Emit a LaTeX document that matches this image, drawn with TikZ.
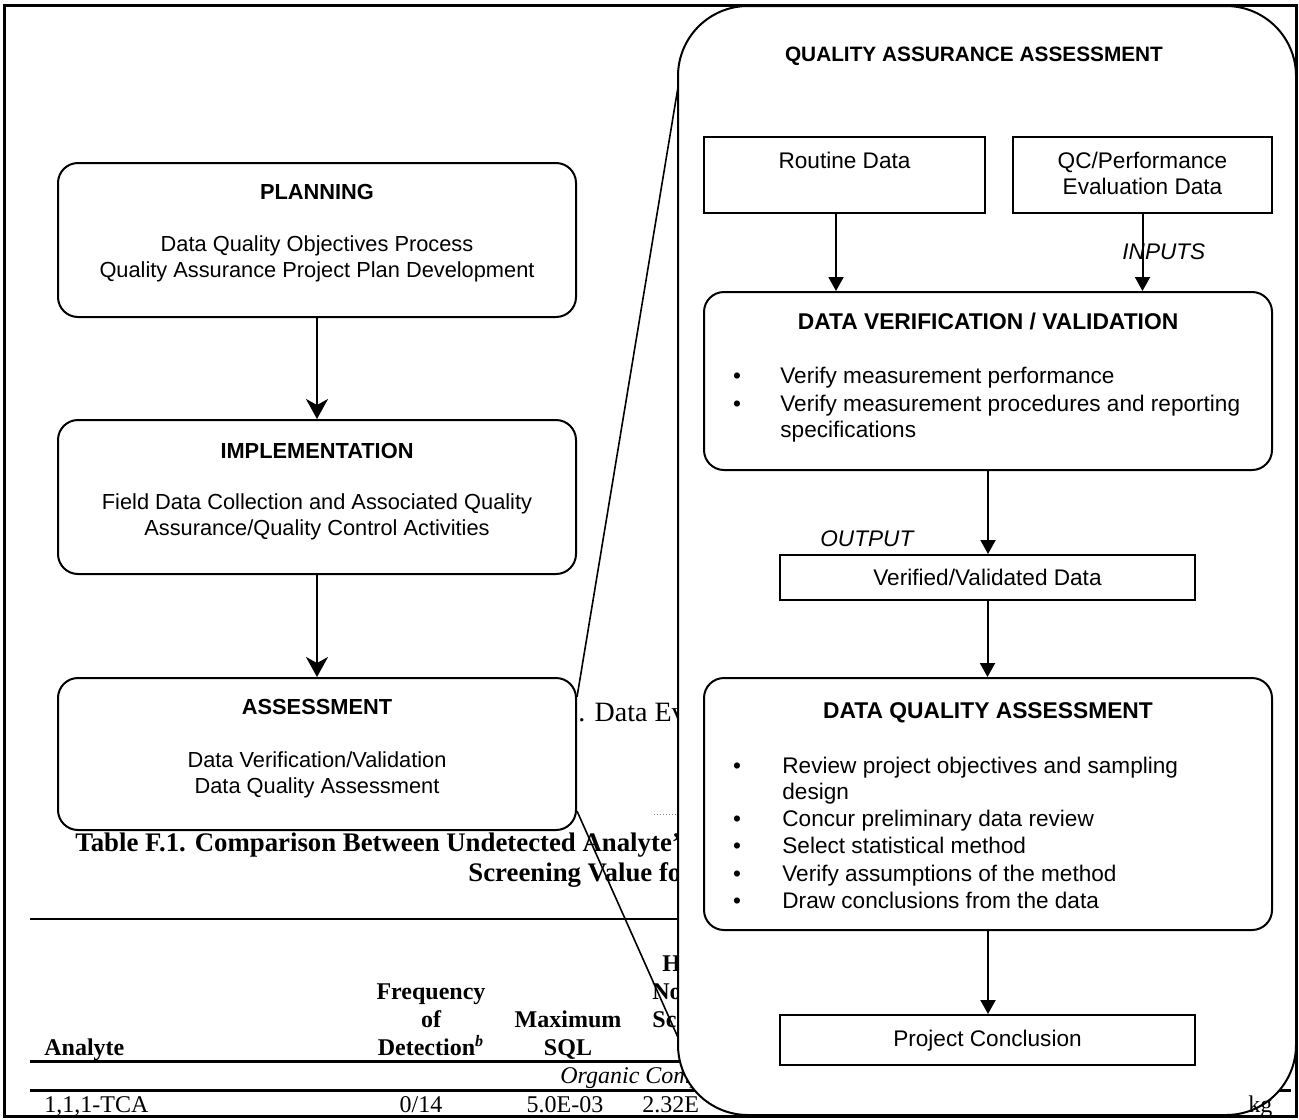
\documentclass[tikz,border=0pt]{standalone}
\usepackage{fontspec}
\setmainfont{Liberation Sans}
\newfontfamily\tmsfont{Liberation Serif}
\usetikzlibrary{arrows.meta}
\begin{document}
\begin{tikzpicture}[x=0.5pt,y=-0.5pt,
  lbox/.style={draw,line width=1pt,fill=white,rounded corners=10pt,inner sep=0pt},
  sbox/.style={draw,line width=1pt,fill=white,inner sep=0pt},
  bigbox/.style={draw,line width=1pt,fill=white,rounded corners=35pt,inner sep=0pt},
  arr/.style={line width=1pt,-{Triangle[length=7pt,width=7.5pt]}},
  larr/.style={line width=1pt,-{Stealth[length=10pt,width=11pt,inset=3pt]}},
  txt/.style={font=\fontsize{10.9pt}{13pt}\selectfont,inner sep=0pt,anchor=base},
  ttl/.style={font=\fontsize{10.9pt}{13pt}\selectfont\bfseries,inner sep=0pt,anchor=base},
  rtxt/.style={font=\fontsize{11.3pt}{13pt}\selectfont,inner sep=0pt,anchor=base},
  rttl/.style={font=\fontsize{11.4pt}{13pt}\selectfont\bfseries,inner sep=0pt,anchor=base},
  itx/.style={font=\fontsize{11.3pt}{13pt}\selectfont\itshape,inner sep=0pt,anchor=base west},
  tabb/.style={font=\tmsfont\fontsize{12pt}{14pt}\selectfont\bfseries,inner sep=0pt,anchor=base},
  tabt/.style={font=\tmsfont\fontsize{13.4pt}{16pt}\selectfont\bfseries,inner sep=0pt,anchor=base west},
  tabr/.style={font=\tmsfont\fontsize{12pt}{14pt}\selectfont,inner sep=0pt,anchor=base},
  tabi/.style={font=\tmsfont\fontsize{12pt}{14pt}\selectfont\itshape,inner sep=0pt,anchor=base west}
]
\useasboundingbox (0,0) rectangle (1299,1119);

% ---------- background table (partly covered) ----------
\draw[line width=1pt] (30,919) -- (700,919);
\draw[line width=1.5pt] (30,1061) -- (1291,1061);
\draw[line width=1.5pt] (30,1090) -- (1291,1090);
\node[tabt] (tt1) at (75,851) {Table F.1. Comparison Between Undetected Analyte’s};
\node[tabt] (tt2) at (468,881) {Screening Value for};
\node[tabb,anchor=base west] (hA) at (44,1055) {Analyte};
\node[tabb] (hF1) at (431,999) {Frequency};
\node[tabb] (hF2) at (431,1027) {of};
\node[tabb] (hF3) at (431,1055) {Detection\textsuperscript{\itshape b}};
\node[tabb] (hM1) at (568,1027) {Maximum};
\node[tabb] (hM2) at (568,1055) {SQL};
\node[tabb,anchor=base west] (hH1) at (662,971) {H};
\node[tabb,anchor=base west] (hH2) at (652,999) {No};
\node[tabb,anchor=base west] (hH3) at (652,1027) {Sc};
\node[tabi] (org) at (560,1083) {Organic Comp};
\node[tabr,anchor=base west] (r1) at (44,1112) {1,1,1-TCA};
\node[tabr] (r2) at (421,1112) {0/14};
\node[tabr] (r3) at (565,1112) {5.0E-03};
\node[tabr,anchor=base west] (r4) at (642,1112) {2.32E};
\node[font=\tmsfont\fontsize{14pt}{16pt}\selectfont,inner sep=0pt,anchor=base west] (cap) at (578,721) {. Data Ev};
\draw[gray,line width=0.5pt,densely dotted] (654,814) -- (690,814);

% ---------- left column ----------
\node[lbox,minimum width=259pt,minimum height=77pt] (plan) at (317,240) {};
\node[lbox,minimum width=259pt,minimum height=77pt] (impl) at (317,497) {};
\node[lbox,minimum width=259pt,minimum height=76pt] (assess) at (317,754) {};
\node[ttl] (planT) at (317,199) {PLANNING};
\node[txt] (planA) at (317,251) {Data Quality Objectives Process};
\node[txt] (planB) at (317,277) {Quality Assurance Project Plan Development};
\node[ttl] (implT) at (317,458) {IMPLEMENTATION};
\node[txt] (implA) at (317,509) {Field Data Collection and Associated Quality};
\node[txt] (implB) at (317,535) {Assurance/Quality Control Activities};
\node[ttl] (assT) at (317,714) {ASSESSMENT};
\node[txt] (assA) at (317,767) {Data Verification/Validation};
\node[txt] (assB) at (317,793) {Data Quality Assessment};
\draw[larr] (plan.south) -- (impl.north);
\draw[larr] (impl.south) -- (assess.north);

% zoom lines
\coordinate (zTop) at (680,75);
\coordinate (zBot) at (680,1042);
\draw[line width=0.8pt] ([yshift=-10pt]assess.north east) -- (zTop);
\draw[line width=0.8pt] ([yshift=10pt]assess.south east) -- (zBot);

% ---------- zoomed panel ----------
\node[bigbox,minimum width=309pt,minimum height=554.5pt] (big) at (987,560.5) {};
\node[ttl,font=\fontsize{10.4pt}{13pt}\selectfont\bfseries] (bigT) at (974,61) {QUALITY ASSURANCE ASSESSMENT};

\node[sbox,minimum width=140.5pt,minimum height=38pt] (routine) at (844.5,175) {};
\node[sbox,minimum width=129.5pt,minimum height=38pt] (qc) at (1142.5,175) {};
\node[rtxt] (routineT) at (844.5,168) {Routine Data};
\node[rtxt] (qcA) at (1142.5,168) {QC/Performance};
\node[rtxt] (qcB) at (1142.5,194) {Evaluation Data};

\node[lbox,minimum width=284pt,minimum height=89pt] (dvv) at (988,381) {};
\node[rttl] (dvvT) at (988,329) {DATA VERIFICATION / VALIDATION};
\node[rtxt] (dvvB1) at (737,383) {\textbullet};
\node[rtxt] (dvvB2) at (737,411) {\textbullet};
\node[rtxt,anchor=base west] (dvv1) at (780,383) {Verify measurement performance};
\node[rtxt,anchor=base west] (dvv2) at (780,411) {Verify measurement procedures and reporting};
\node[rtxt,anchor=base west] (dvv3) at (780,437) {specifications};

\draw[arr] ([xshift=-4.25pt]routine.south) -- ([xshift=-4.25pt]routine.south |- dvv.north);
\draw[arr] (qc.south) -- (qc.south |- dvv.north);
\node[itx] (inputs) at (1122,259) {INPUTS};

\node[sbox,minimum width=207.5pt,minimum height=22.5pt] (ver) at (987.5,577.5) {};
\node[rtxt] (verT) at (987.5,585) {Verified/Validated Data};
\draw[arr] (dvv.south) -- (dvv.south |- ver.north);
\node[itx] (output) at (820,546) {OUTPUT};

\node[lbox,minimum width=284pt,minimum height=126pt] (dqa) at (988,804) {};
\node[rttl] (dqaT) at (988,718) {DATA QUALITY ASSESSMENT};
\node[rtxt] (dqaB1) at (737,773) {\textbullet};
\node[rtxt] (dqaB2) at (737,826) {\textbullet};
\node[rtxt] (dqaB3) at (737,853) {\textbullet};
\node[rtxt] (dqaB4) at (737,881) {\textbullet};
\node[rtxt] (dqaB5) at (737,908) {\textbullet};
\node[rtxt,anchor=base west] (dqa1) at (782,773) {Review project objectives and sampling};
\node[rtxt,anchor=base west] (dqa1b) at (782,799) {design};
\node[rtxt,anchor=base west] (dqa2) at (782,826) {Concur preliminary data review};
\node[rtxt,anchor=base west] (dqa3) at (782,853) {Select statistical method};
\node[rtxt,anchor=base west] (dqa4) at (782,881) {Verify assumptions of the method};
\node[rtxt,anchor=base west] (dqa5) at (782,908) {Draw conclusions from the data};
\draw[arr] (ver.south) -- (ver.south |- dqa.north);

\node[sbox,minimum width=207.5pt,minimum height=25pt] (concl) at (987.5,1040) {};
\node[rtxt] (conclT) at (987.5,1046) {Project Conclusion};
\draw[arr] (dqa.south) -- (dqa.south |- concl.north);

\node[tabr,anchor=base west] (kg) at (1248,1112) {kg};

% outer frame
\draw[line width=1.5pt] (4,5) rectangle (1296,1116);
\end{tikzpicture}
\end{document}
